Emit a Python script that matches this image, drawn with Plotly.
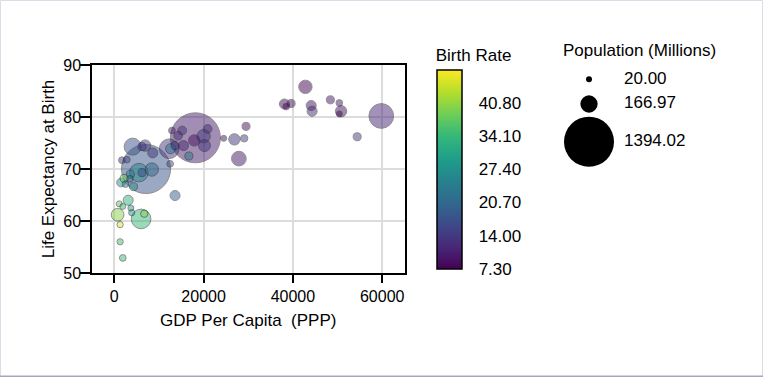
import plotly.graph_objects as go

# ---- data ----
gdp_per_capita = [42800, 38100, 39600, 38500, 44100, 44300, 48400, 50400, 50800, 50400,
                  59800, 54400, 29500, 26900, 29100, 24500, 27900,
                  18160, 12900, 15200, 14300, 20900, 20000, 20200, 17900, 15500,
                  12300, 12600, 13600, 16700, 12500, 13600,
                  7100, 4100, 6900, 8600, 6200, 1700, 2800, 5500, 8400, 6200,
                  3600, 2200, 1500, 2500, 4300, 3500,
                  3100, 1100, 1900, 3700, 3900, 740, 6000, 6700, 1300, 1300, 1900]
life_expectancy = [85.8, 82.5, 82.6, 82.0, 82.2, 81.1, 83.3, 82.7, 81.1, 80.6,
                   80.2, 76.2, 78.2, 75.7, 75.9, 75.9, 72.0,
                   76.0, 77.4, 77.4, 76.4, 77.7, 76.3, 74.5, 75.5, 74.5,
                   73.9, 73.9, 74.5, 72.5, 71.0, 64.9,
                   70.0, 74.3, 74.5, 73.1, 74.3, 71.7, 71.8, 69.3, 69.9, 69.3,
                   69.0, 68.2, 67.4, 67.1, 66.6, 68.1,
                   64.0, 63.3, 62.8, 62.5, 61.6, 61.2, 60.4, 61.4, 59.3, 56.0, 52.9]
population_m = [100, 56, 36, 25, 56, 56, 36, 25, 72, 20,
                340, 36, 36, 72, 30, 20, 120,
                1394.02, 25, 42, 42, 42, 99, 80, 72, 56,
                215, 56, 36, 36, 25, 56,
                1340, 160, 72, 56, 36, 25, 25, 190, 99, 36,
                36, 36, 42, 25, 36, 25,
                56, 20, 20, 20, 22, 90, 215, 30, 22, 22, 25]
birth_rate = [7.5, 8.0, 9.0, 7.3, 9.5, 12.0, 10.0, 10.5, 9.5, 7.5,
              11.6, 14.5, 9.0, 13.5, 15.5, 9.5, 10.0,
              10.5, 11.0, 13.5, 12.0, 12.5, 14.0, 13.5, 9.0, 11.5,
              14.0, 22.0, 15.0, 24.0, 16.0, 19.5,
              17.8, 17.5, 14.5, 13.0, 15.0, 13.0, 16.5, 26.0, 20.5, 16.0,
              24.0, 38.0, 27.0, 25.0, 28.0, 23.0,
              33.0, 38.0, 34.0, 30.0, 29.0, 40.0, 34.0, 40.0, 46.0, 35.0, 34.5]

legend_sizes = [20.00, 166.97, 1394.02]
colorbar_ticks = [7.30, 14.00, 20.70, 27.40, 34.10, 40.80]
birth_rate_min, birth_rate_max = 7.3, 47.4

# ---- layout geometry (pixels) ----
W, H = 763, 377
ML, MR, MT, MB = 92, 20, 30, 104
PW, PH = W - ML - MR, H - MT - MB
def px2x(p):
    return (p - ML) / PW
def py2y(p):
    return (H - MB - p) / PH

max_marker_px = 50
sizeref = 2.0 * max(legend_sizes) / max_marker_px ** 2
FONT = "Liberation Sans, Arial, sans-serif"

order = sorted(range(len(population_m)), key=lambda i: -population_m[i])

fig = go.Figure()
fig.add_trace(go.Scatter(
    x=[gdp_per_capita[i] for i in order],
    y=[life_expectancy[i] for i in order],
    mode="markers",
    showlegend=False,
    marker=dict(
        size=[population_m[i] for i in order],
        sizemode="area", sizeref=sizeref,
        color=[birth_rate[i] for i in order],
        colorscale="Viridis", cmin=birth_rate_min, cmax=birth_rate_max,
        opacity=0.5,
        line=dict(color="#222222", width=1),
        colorbar=dict(
            title=dict(text="Birth Rate", side="top", font=dict(size=17, color="black")),
            x=px2x(436.5), xanchor="left", xpad=0,
            y=py2y(269), yanchor="bottom", ypad=0,
            len=223, lenmode="pixels", thickness=25,
            outlinewidth=1.5, outlinecolor="black",
            tickvals=colorbar_ticks, tickformat=".2f",
            ticks="outside", ticklen=13, tickcolor="rgba(0,0,0,0)",
            tickfont=dict(size=17, color="black"),
        ),
    ),
))

# size legend drawn on its own hidden axes
fig.add_trace(go.Scatter(
    x=[29, 29, 29], y=[79.3, 104, 141.7],
    mode="markers", showlegend=False, xaxis="x2", yaxis="y2",
    marker=dict(size=legend_sizes, sizemode="area", sizeref=sizeref, color="black",
                opacity=1, line=dict(width=0)),
    hoverinfo="skip",
))
fig.add_trace(go.Scatter(
    x=[64, 64, 64], y=[79.3, 104, 141.7],
    mode="text", showlegend=False, xaxis="x2", yaxis="y2",
    text=[f"{v:.2f}" for v in legend_sizes], textposition="middle right",
    textfont=dict(size=17, color="black"),
    hoverinfo="skip",
))

axis_common = dict(
    showline=True, linecolor="black", linewidth=1.5, mirror=True,
    showgrid=True, gridcolor="#dcdcdc", gridwidth=1.5, zeroline=False,
    ticks="outside", tickcolor="black", tickwidth=1.5,
    tickfont=dict(size=16, color="black"),
)

fig.update_layout(
    width=W, height=H,
    margin=dict(l=ML, r=MR, t=MT, b=MB),
    paper_bgcolor="white", plot_bgcolor="white",
    font=dict(family=FONT, color="black"),
    xaxis=dict(domain=[0, px2x(404.5)], range=[-5000, 65000],
               tickvals=[0, 20000, 40000, 60000], tickformat="d", ticklen=8,
               title=dict(text="GDP Per Capita \u00a0(PPP)", font=dict(size=17), standoff=10),
               **axis_common),
    yaxis=dict(domain=[0, py2y(65)], range=[50, 90], tickvals=[50, 60, 70, 80, 90],
               ticklen=10, ticklabelstandoff=-4,
               title=dict(text="Life Expectancy at Birth", font=dict(size=17), standoff=4),
               **axis_common),
    xaxis2=dict(domain=[px2x(560), px2x(740)], range=[0, 180], visible=False, anchor="y2"),
    yaxis2=dict(domain=[py2y(170), py2y(40)], range=[170, 40], visible=False, anchor="x2"),
    annotations=[dict(text="Population (Millions)", x=79.5, y=50, xref="x2", yref="y2",
                      showarrow=False, font=dict(size=17, color="black"))],
    shapes=[
        dict(type="rect", xref="paper", yref="paper",
             x0=px2x(0.5), x1=px2x(762.5), y0=py2y(376.5), y1=py2y(0.5),
             line=dict(color="#dedbe8", width=1)),
        dict(type="line", xref="paper", yref="paper",
             x0=px2x(0), x1=px2x(763), y0=py2y(376.3), y1=py2y(376.3),
             line=dict(color="#aaa6bf", width=1.5)),
    ],
)

fig.write_html("out.html", config={"displayModeBar": False},
               post_script="document.body.style.margin='0';")
